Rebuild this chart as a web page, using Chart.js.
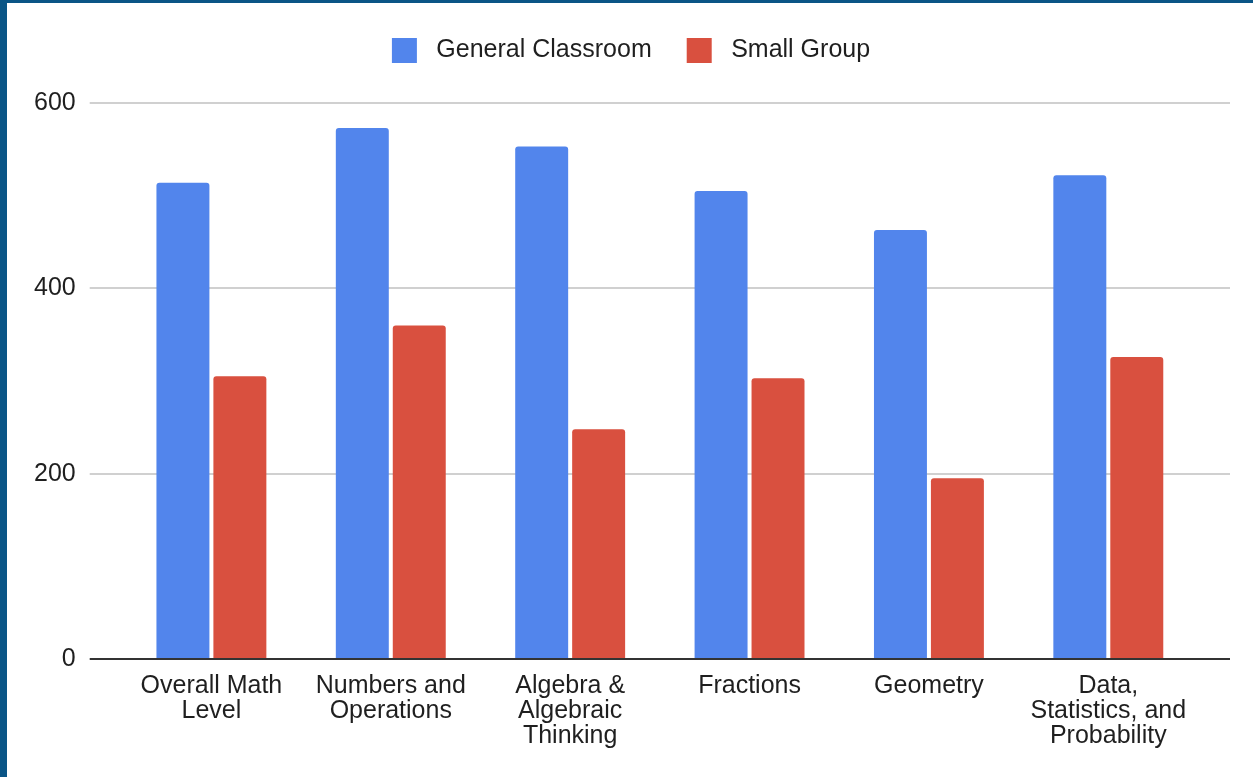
<!DOCTYPE html>
<html>
<head>
<meta charset="utf-8">
<script src="https://cdn.jsdelivr.net/npm/chart.js@4"></script>
<style>
  html, body { margin: 0; padding: 0; }
  body { width: 1253px; height: 777px; background: #0a5586; position: relative; overflow: hidden; }
  .card { position: absolute; left: 7px; top: 3px; width: 1246px; height: 774px; background: #fff; }
</style>
</head>
<body>
<div class="card"><canvas id="chart" width="1246" height="774"></canvas></div>
<script>
const categories = [
  ["Overall Math", "Level"],
  ["Numbers and", "Operations"],
  ["Algebra &", "Algebraic", "Thinking"],
  "Fractions",
  "Geometry",
  ["Data,", "Statistics, and", "Probability"]
];
const generalClassroom = [514, 573, 553, 505, 463, 522];
const smallGroup = [305, 360, 248, 303, 195, 326];
const yTicks = [0, 200, 400, 600];

const font = { family: "'Liberation Sans', Arial, sans-serif", size: 25, lineHeight: 1 };
const textColor = "#1f1f1f";

const gridColor = ctx => (ctx.tick && ctx.tick.value === 0 ? "#333" : "#d0d0d0");

// legend needs more room below it, and sits slightly right of centre
const legendSpace = {
  id: "legendSpace",
  beforeInit(chart) {
    const fit = chart.legend.fit;
    chart.legend.fit = function () {
      fit.bind(this)();
      this.height += 30;
    };
  },
  afterLayout(chart) {
    chart.legend.left += 6;
    chart.legend.right += 6;
  }
};

new Chart(document.getElementById("chart"), {
  type: "bar",
  data: {
    labels: categories,
    datasets: [
      { label: "General Classroom", data: generalClassroom, backgroundColor: "#5285ec" },
      { label: "Small Group", data: smallGroup, backgroundColor: "#d9503f" }
    ]
  },
  options: {
    responsive: false,
    animation: false,
    layout: { padding: { left: 13, right: 23, top: 0, bottom: 13 } },
    datasets: {
      bar: {
        categoryPercentage: 0.635,
        barPercentage: 0.93,
        borderRadius: { topLeft: 3, topRight: 3 },
        borderSkipped: "start"
      }
    },
    plugins: {
      legend: {
        position: "top",
        labels: {
          boxWidth: 25,
          boxHeight: 25,
          padding: 35,
          color: textColor,
          font,
          generateLabels: chart => Chart.defaults.plugins.legend.labels.generateLabels(chart)
            .map(item => ({ ...item, text: " " + item.text }))
        }
      },
      tooltip: { enabled: false }
    },
    scales: {
      x: {
        grid: { display: false, drawTicks: false },
        border: { display: false },
        ticks: { color: textColor, font, padding: 15, maxRotation: 0, autoSkip: false }
      },
      y: {
        position: "left",
        min: 0,
        max: 600,
        afterBuildTicks: axis => { axis.ticks = yTicks.map(v => ({ value: v })); },
        grid: { color: gridColor, tickColor: gridColor, lineWidth: 2, tickLength: 32 },
        border: { display: false },
        ticks: { color: textColor, font, padding: 14 }
      },
      yRight: {
        position: "right",
        min: 0,
        max: 600,
        afterBuildTicks: axis => { axis.ticks = yTicks.map(v => ({ value: v })); },
        grid: { color: gridColor, tickColor: gridColor, lineWidth: 2, tickLength: 32, drawOnChartArea: false },
        border: { display: false },
        ticks: { display: false }
      }
    }
  },
  plugins: [legendSpace]
});
</script>
</body>
</html>
